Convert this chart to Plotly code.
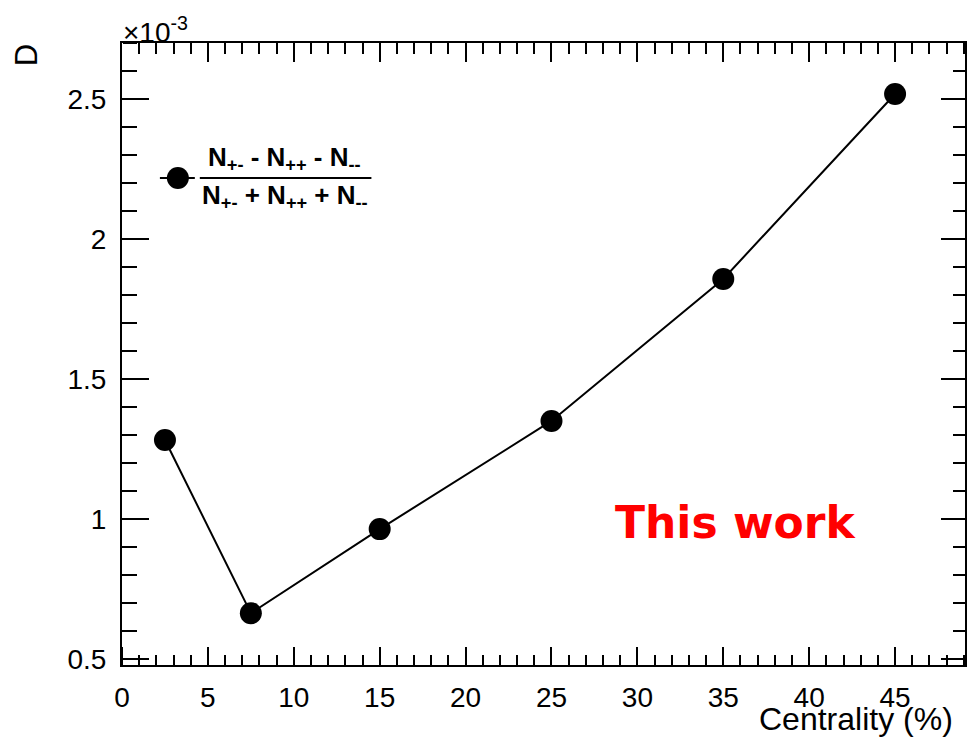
import plotly.graph_objects as go

centrality = [2.5, 7.5, 15, 25, 35, 45]
d_values = [1.283, 0.665, 0.965, 1.351, 1.858, 2.518]  # in units of 1e-3

x_ticks = [0, 5, 10, 15, 20, 25, 30, 35, 40, 45]
y_ticks = [0.5, 1, 1.5, 2, 2.5]
y_tick_labels = ["0.5", "1", "1.5", "2", "2.5"]

X_RANGE = [0, 49.07]
Y_RANGE = [0.48, 2.70]

W, H = 969, 742
L, R, T, B = 122, 2, 43, 77
PW, PH = W - L - R, H - T - B


def px(xp):
    return (xp - L) / PW


def py(yp):
    return (H - B - yp) / PH


FONT = "Liberation Sans, Arial, sans-serif"

fig = go.Figure()
fig.add_trace(go.Scatter(
    x=centrality, y=d_values, mode="lines+markers",
    line=dict(color="black", width=2),
    marker=dict(color="black", size=22),
    showlegend=False, hoverinfo="skip",
))
fig.add_trace(go.Scatter(x=[None], y=[None], xaxis="x2", yaxis="y2", showlegend=False))
fig.add_trace(go.Scatter(x=[None], y=[None], xaxis="x4", yaxis="y4", showlegend=False))

axis_common = dict(showgrid=False, zeroline=False, color="black", layer="above traces",
                   linecolor="black", linewidth=2, tickcolor="black", tickwidth=2)


def minor(length, step, direction="inside"):
    return dict(ticks=direction, ticklen=length, tickmode="linear", dtick=step, tick0=0,
                tickcolor="black", tickwidth=2, showgrid=False)


fig.update_layout(
    width=W, height=H,
    margin=dict(l=L, r=R, t=T, b=B),
    paper_bgcolor="white", plot_bgcolor="rgba(0,0,0,0)",
    font=dict(family=FONT, size=28, color="black"),
    xaxis=dict(range=X_RANGE, tickmode="array", tickvals=x_ticks, ticks="inside",
               ticklen=18, showline=True, mirror=True, ticklabelstandoff=6,
               minor=minor(10, 1),
               tickfont=dict(size=28, family=FONT), **axis_common),
    yaxis=dict(range=Y_RANGE, tickmode="array", tickvals=y_ticks, ticktext=y_tick_labels,
               ticks="inside", ticklen=26, showline=True, mirror=True,
               ticklabelstandoff=8, minor=minor(14, 0.1),
               tickfont=dict(size=28, family=FONT), **axis_common),
    # top and right tick marks
    xaxis2=dict(range=X_RANGE, overlaying="x", side="top", anchor="y",
                tickmode="array", tickvals=x_ticks, ticks="inside", ticklen=19,
                showticklabels=False, minor=minor(11, 1), **axis_common),
    yaxis2=dict(range=Y_RANGE, overlaying="y", side="right", anchor="x",
                tickmode="array", tickvals=y_ticks, ticks="inside", ticklen=24,
                showticklabels=False, minor=minor(12, 0.1), **axis_common),
    # bottom and left tick marks, drawn as free top/right axes placed at the
    # bottom/left edges with outward ticks (which point into the frame)
    xaxis4=dict(range=X_RANGE, overlaying="x", side="top", anchor="free", position=0,
                tickmode="array", tickvals=x_ticks, ticks="outside", ticklen=18,
                showticklabels=False, showline=False,
                minor=minor(10, 1, "outside"), **axis_common),
    yaxis4=dict(range=Y_RANGE, overlaying="y", side="right", anchor="free", position=0,
                tickmode="array", tickvals=y_ticks, ticks="outside", ticklen=26,
                showticklabels=False, showline=False,
                minor=minor(14, 0.1, "outside"), **axis_common),
)

annotations = [
    dict(text="×10<sup>-3</sup>", x=px(121), y=py(30), xref="paper", yref="paper",
         xanchor="left", yanchor="middle", showarrow=False,
         font=dict(size=28, family=FONT)),
    dict(text="D", x=px(26), y=py(55), xref="paper", yref="paper",
         xanchor="center", yanchor="middle", textangle=-90, showarrow=False,
         font=dict(size=31, family=FONT)),
    dict(text="Centrality (%)", x=px(957), y=py(719), xref="paper", yref="paper",
         xanchor="right", yanchor="middle", showarrow=False,
         font=dict(size=32, family=FONT)),
    dict(text="<b>N<sub>+-</sub> - N<sub>++</sub> - N<sub>--</sub></b>",
         x=px(285), y=py(158), xref="paper", yref="paper",
         xanchor="center", yanchor="middle", showarrow=False,
         font=dict(size=26, family=FONT)),
    dict(text="<b>N<sub>+-</sub> + N<sub>++</sub> + N<sub>--</sub></b>",
         x=px(285.5), y=py(196), xref="paper", yref="paper",
         xanchor="center", yanchor="middle", showarrow=False,
         font=dict(size=26, family=FONT)),
    dict(text="<b>This work</b>", x=px(737), y=py(522), xref="paper", yref="paper",
         xanchor="center", yanchor="middle", showarrow=False,
         font=dict(size=44, family="DejaVu Sans, sans-serif", color="#ff0000")),
]
fig.update_layout(annotations=annotations)

shapes = [
    dict(type="line", xref="paper", yref="paper", x0=px(160), x1=px(195),
         y0=py(178), y1=py(178), line=dict(color="black", width=2)),
    dict(type="circle", xref="paper", yref="paper", xsizemode="pixel", ysizemode="pixel",
         xanchor=px(178), yanchor=py(178), x0=-11, x1=11, y0=-11, y1=11,
         fillcolor="black", line=dict(color="black", width=0)),
    dict(type="line", xref="paper", yref="paper", x0=px(200), x1=px(372),
         y0=py(178), y1=py(178), line=dict(color="black", width=2)),
]
fig.update_layout(shapes=shapes)

fig.write_html(
    "out.html",
    config={"displayModeBar": False},
    post_script="document.body.style.margin='0';document.body.style.padding='0';"
                "document.body.style.overflow='hidden';",
)
